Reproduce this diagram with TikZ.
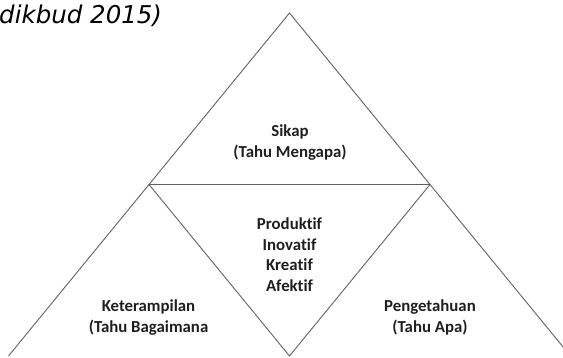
\documentclass[tikz,border=0pt]{standalone}
\usepackage{fontspec}
\setmainfont{Carlito}[Ligatures={NoCommon,NoContextual}]
\newfontfamily\capfont{DejaVu Sans}
\begin{document}
\begin{tikzpicture}[x=1pt,y=-1pt,
  edge/.style={draw=black!62, line width=0.9pt},
  lbl/.style={font=\bfseries\fontsize{16.8}{20.5}\selectfont, align=center,
              text=black!88, inner sep=0pt, anchor=base},
  srctext/.style={font=\capfont\itshape\fontsize{24.5}{28}\selectfont,
              text=black, inner sep=0pt, anchor=base west}]
\useasboundingbox (0,0) rectangle (563,357);

% corner points of the pyramid and its inner triangle
\coordinate (apex) at (289.5,13);
\coordinate (ml) at (149,184.5);
\coordinate (mr) at (430,184.5);
\coordinate (bl) at (8.5,356);
\coordinate (br) at (570.5,356);
\coordinate (bm) at (289.5,356);

\begin{scope}
  \clip (0,0) rectangle (563,357);
  \draw[edge] (bl) -- (apex) -- (br);
  \draw[edge] (ml) -- (mr);
  \draw[edge] (ml) -- (bm) -- (mr);
\end{scope}

% caption
\node[srctext] (source) at (-1,23) {dikbud 2015)};

% labels (placed by the baseline of their last line)
\node[lbl] (sikap) at (290,157) {Sikap\\(Tahu Mengapa)};
\node[lbl] (inti) at (289.5,291) {Produktif\\Inovatif\\Kreatif\\Afektif};
\node[lbl] (terampil) at (148.5,332) {Keterampilan\\(Tahu Bagaimana};
\node[lbl] (tahu) at (430,332) {Pengetahuan\\(Tahu Apa)};
\end{tikzpicture}
\end{document}
